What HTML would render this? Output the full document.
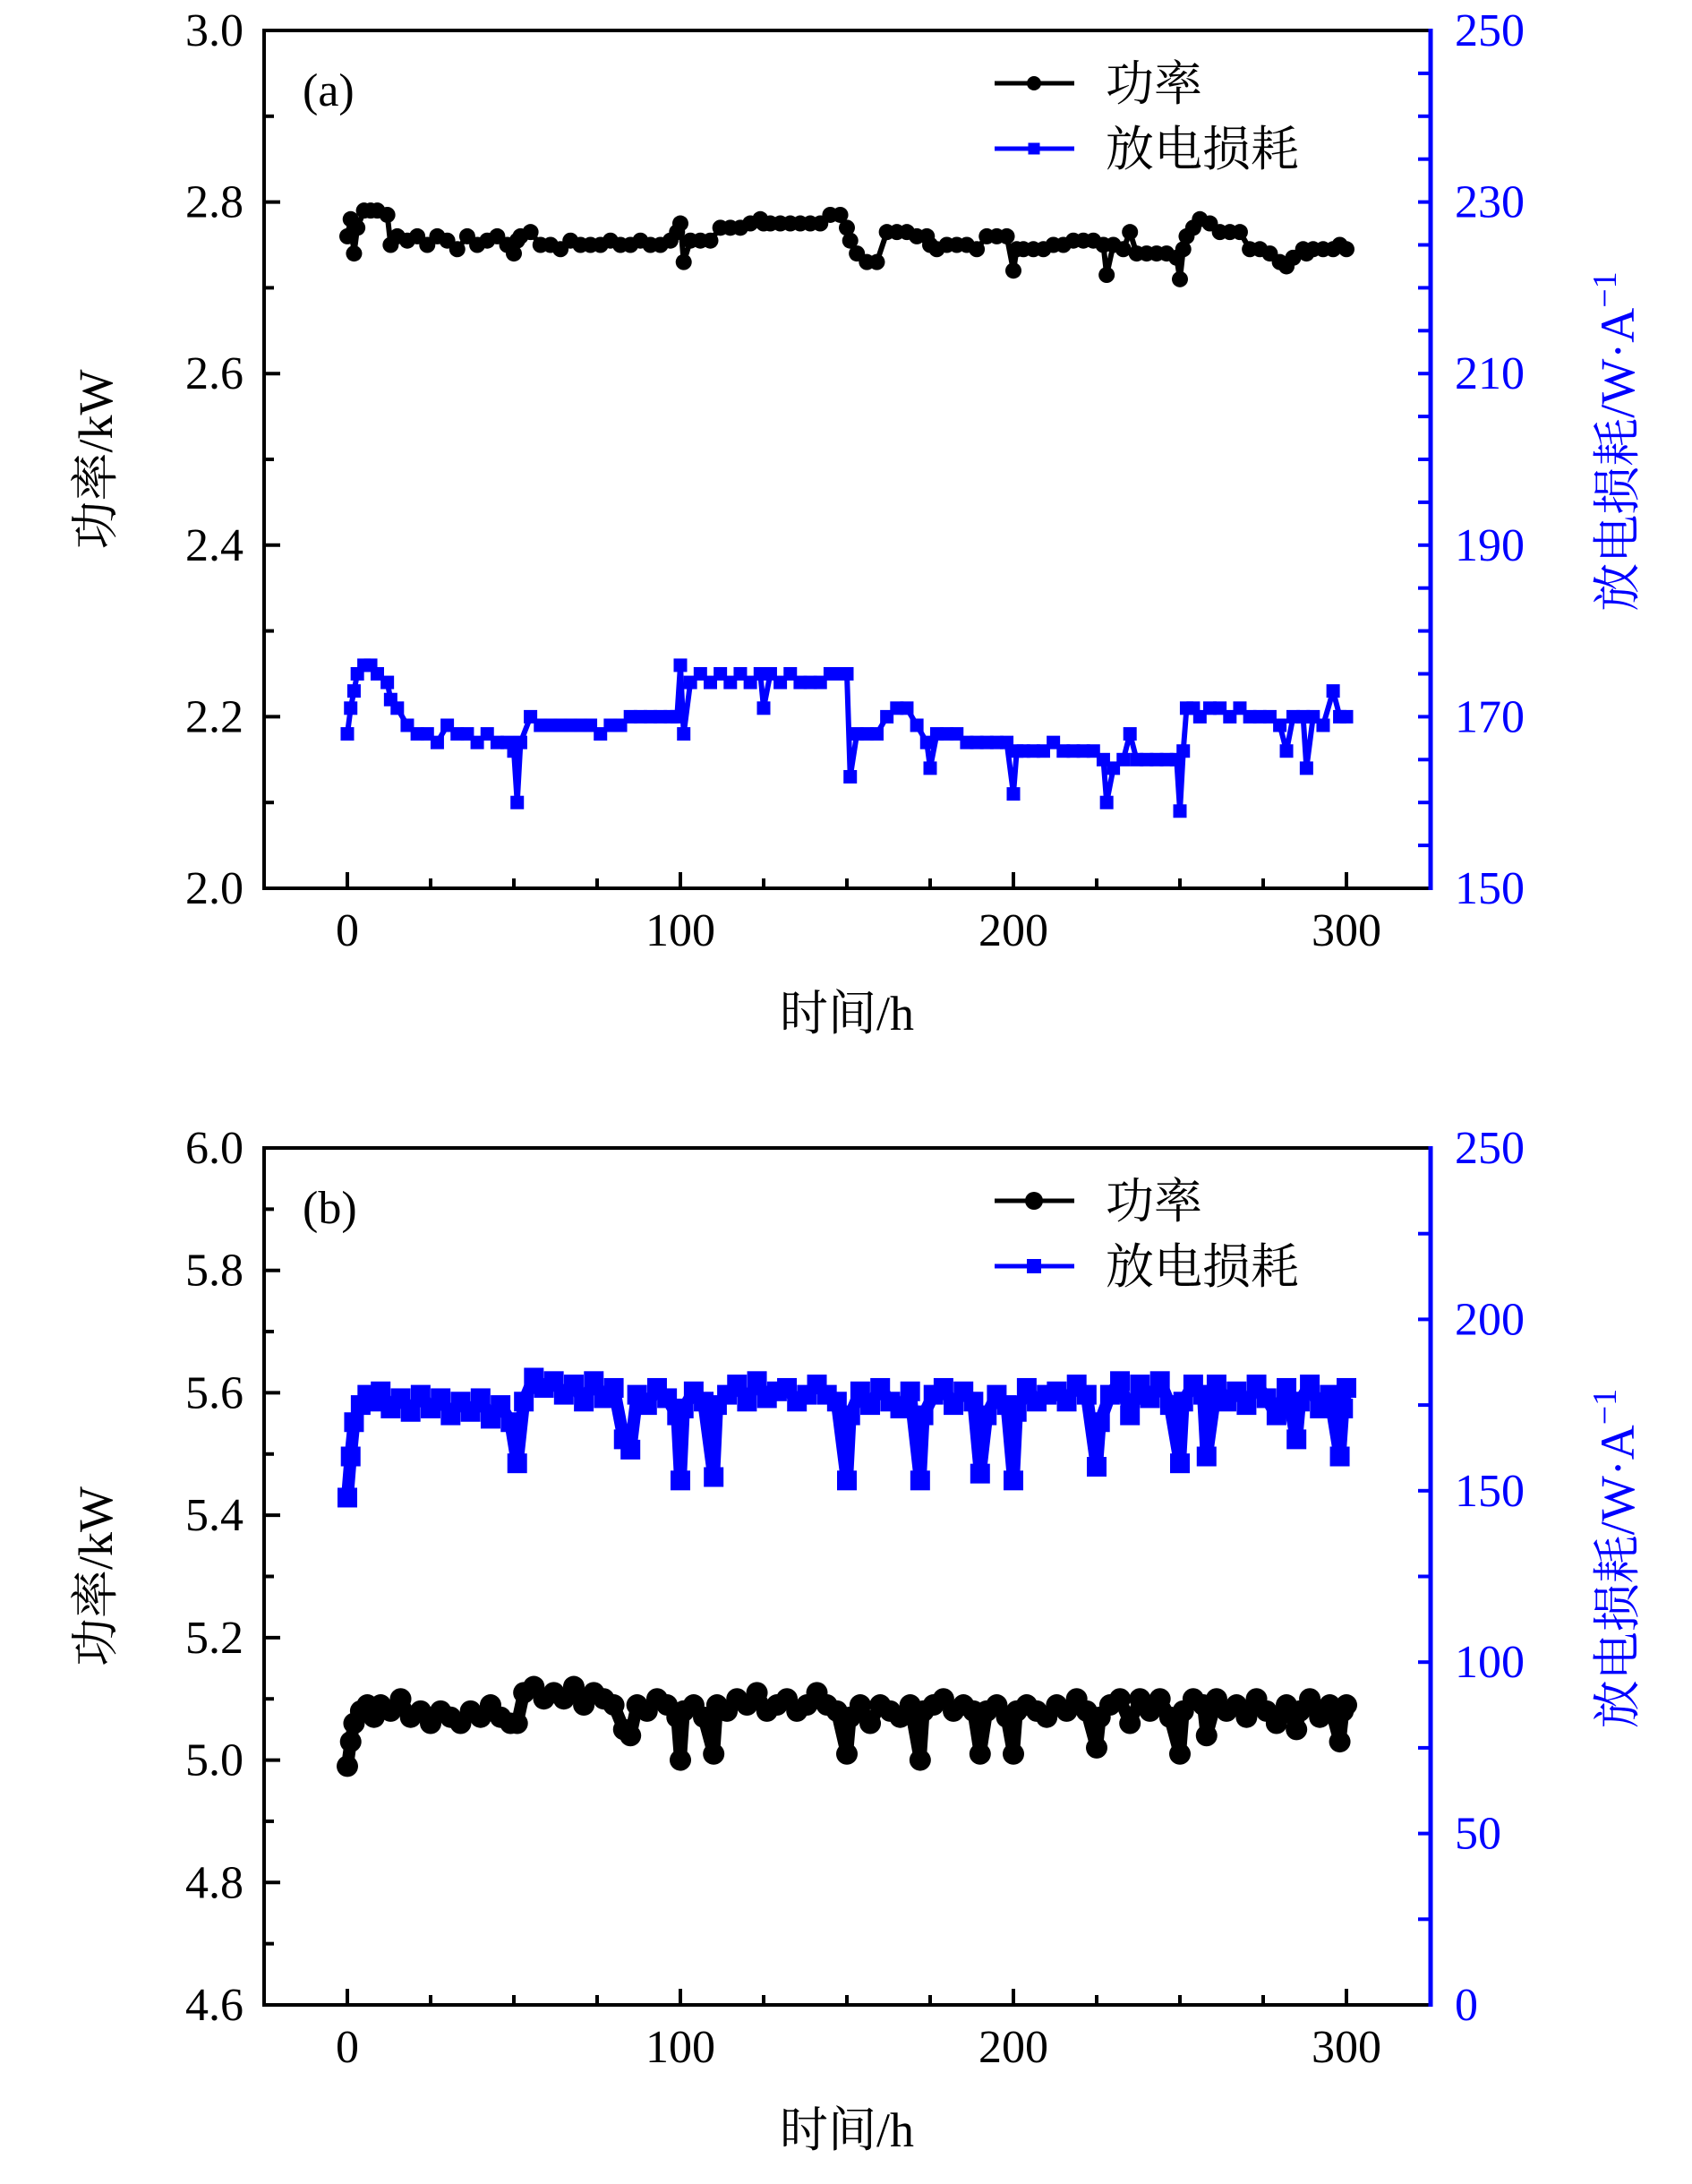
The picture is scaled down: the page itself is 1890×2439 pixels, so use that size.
<!DOCTYPE html>
<html><head><meta charset="utf-8"><style>
html,body{margin:0;padding:0;background:#fff}
svg text{font-family:"Liberation Serif","Noto Serif CJK SC",serif}
</style></head><body>
<svg id="fig" width="1890" height="2434" xmlns="http://www.w3.org/2000/svg"></svg>
<script>
const T_A=[0,1,2,3,5,7,9,12,13,15,18,21,24,27,30,33,36,39,42,45,48,50,51,52,55,58,61,64,67,70,73,76,79,82,85,88,91,94,97,99,100,101,103,106,109,112,115,118,121,124,125,127,130,133,136,139,142,145,148,150,151,153,156,159,162,165,168,171,174,175,177,180,183,186,189,192,195,198,200,201,203,206,209,212,215,218,221,224,227,228,230,233,235,237,240,243,246,249,250,251,252,254,256,259,262,265,268,271,274,277,280,282,284,287,288,290,293,296,298,300];
const POWER_A=[2.76,2.78,2.74,2.77,2.79,2.79,2.79,2.785,2.75,2.76,2.755,2.76,2.75,2.76,2.755,2.745,2.76,2.75,2.755,2.76,2.75,2.74,2.755,2.76,2.765,2.75,2.75,2.745,2.755,2.75,2.75,2.75,2.755,2.75,2.75,2.755,2.75,2.75,2.755,2.765,2.775,2.73,2.755,2.755,2.755,2.77,2.77,2.77,2.775,2.78,2.775,2.775,2.775,2.775,2.775,2.775,2.775,2.785,2.785,2.77,2.755,2.74,2.73,2.73,2.765,2.765,2.765,2.76,2.76,2.75,2.745,2.75,2.75,2.75,2.745,2.76,2.76,2.76,2.72,2.745,2.745,2.745,2.745,2.75,2.75,2.755,2.755,2.755,2.75,2.715,2.75,2.745,2.765,2.74,2.74,2.74,2.74,2.735,2.71,2.745,2.76,2.77,2.78,2.775,2.765,2.765,2.765,2.745,2.745,2.74,2.73,2.725,2.735,2.745,2.74,2.745,2.745,2.745,2.75,2.745];
const LOSS_A=[168,171,173,175,176,176,175,174,172,171,169,168,168,167,169,168,168,167,168,167,167,166,160,167,170,169,169,169,169,169,169,168,169,169,170,170,170,170,170,170,176,168,174,175,174,175,174,175,174,175,171,175,174,175,174,174,174,175,175,175,163,168,168,168,170,171,171,169,167,164,168,168,168,167,167,167,167,167,161,166,166,166,166,167,166,166,166,166,165,160,164,165,168,165,165,165,165,165,159,166,171,171,170,171,171,170,171,170,170,170,169,166,170,170,164,170,169,173,170,170];
const T_B=[0,1,2,4,6,8,10,13,16,19,22,25,28,31,34,37,40,43,46,49,51,53,56,59,62,65,68,71,74,77,80,83,85,87,90,93,96,99,100,101,104,107,110,111,114,117,120,123,126,129,132,135,138,141,144,147,150,151,154,157,160,163,166,169,172,173,176,179,182,185,188,190,192,195,198,200,201,204,207,210,213,216,219,222,225,226,229,232,235,238,241,244,247,250,251,254,257,258,261,264,267,270,273,276,279,282,285,286,289,292,295,298,299,300];
const POWER_B=[4.99,5.03,5.06,5.08,5.09,5.07,5.09,5.08,5.10,5.07,5.08,5.06,5.08,5.07,5.06,5.08,5.07,5.09,5.07,5.06,5.06,5.11,5.12,5.10,5.11,5.10,5.12,5.09,5.11,5.10,5.09,5.05,5.04,5.09,5.08,5.10,5.09,5.07,5.00,5.08,5.09,5.07,5.01,5.09,5.08,5.10,5.09,5.11,5.08,5.09,5.10,5.08,5.09,5.11,5.09,5.08,5.01,5.07,5.09,5.06,5.09,5.08,5.07,5.09,5.00,5.08,5.09,5.10,5.08,5.09,5.08,5.01,5.08,5.09,5.07,5.01,5.08,5.09,5.08,5.07,5.09,5.08,5.10,5.08,5.02,5.07,5.09,5.10,5.06,5.10,5.08,5.10,5.07,5.01,5.08,5.10,5.09,5.04,5.10,5.08,5.09,5.07,5.10,5.08,5.06,5.09,5.05,5.08,5.10,5.07,5.09,5.03,5.08,5.09];
const LOSS_B=[148,160,170,175,178,176,179,174,177,173,178,174,177,172,176,173,177,171,175,170,158,176,183,180,182,178,181,176,182,177,180,165,162,178,175,180,177,172,153,174,179,176,154,175,178,181,176,182,177,179,180,176,178,181,178,176,153,172,179,175,180,176,174,179,153,172,178,180,175,179,176,155,172,178,175,153,173,180,176,178,179,176,181,178,157,170,178,182,172,181,177,182,175,158,176,181,178,160,181,176,179,175,181,177,172,180,165,176,181,174,178,160,174,180];
const X_TICKS=[0,100,200,300];
const YL_A=[2.0,2.2,2.4,2.6,2.8,3.0], YR_A=[150,170,190,210,230,250];
const YL_B=[4.6,4.8,5.0,5.2,5.4,5.6,5.8,6.0], YR_B=[0,50,100,150,200,250];

const NS='http://www.w3.org/2000/svg';
const svg=document.getElementById('fig');
function mk(tag,attrs,parent,txt){const e=document.createElementNS(NS,tag);for(const k in attrs)e.setAttribute(k,attrs[k]);if(txt!==undefined)e.textContent=txt;(parent||svg).appendChild(e);return e;}

function panel(o){
  const L=295,R=1598,top=o.top,bot=o.bot;
  const g=mk('g',{});
  
  
  const sx=t=>388+(t-0)*(1504-388)/300;
  const syL=v=>bot-(v-o.yl[0])*(bot-top)/(o.yl[o.yl.length-1]-o.yl[0]);
  const syR=v=>bot-(v-o.yr[0])*(bot-top)/(o.yr[o.yr.length-1]-o.yr[0]);
  const lStep=(o.yl[1]-o.yl[0])/2;
  let k=0;
  for(let v=o.yl[0];v<=o.yl[o.yl.length-1]+1e-9;v+=lStep,k++){
    const maj=k%2===0;
    const t=mk('line',{x1:L,x2:L+(maj?18:11),y1:syL(v),y2:syL(v),stroke:'#000','stroke-width':4},g);
    
    
  }
  o.yl.forEach(v=>{const t=mk('text',{x:272,y:syL(v)+17,'font-size':52,'text-anchor':'end',fill:'#000'},g,v.toFixed(1));
    
    });
  for(let v=o.yr[0];v<=o.yr[o.yr.length-1]+1e-9;v+=o.rminor){
    const t=mk('line',{x1:R,x2:R-14,y1:syR(v),y2:syR(v),stroke:'#0000ff','stroke-width':4},g);
    
    
  }
  o.yr.forEach(v=>{const t=mk('text',{x:1625,y:syR(v)+17,'font-size':52,fill:'#0000ff'},g,String(v));
    
    });
  for(let t=0;t<=300;t+=25){const maj=t%100===0;
    const e=mk('line',{x1:sx(t),x2:sx(t),y1:bot,y2:bot-(maj?18:11),stroke:'#000','stroke-width':4},g);
    
    }
  X_TICKS.forEach(t=>{const e=mk('text',{x:sx(t),y:bot+64,'font-size':52,'text-anchor':'middle'},g,String(t));
    
    });
  const lossPts=o.T.map((t,i)=>sx(t)+','+syR(o.loss[i])).join(' ');
  const pwPts=o.T.map((t,i)=>sx(t)+','+syL(o.power[i])).join(' ');
  const lossLine=mk('polyline',{points:lossPts,fill:'none',stroke:'#0000ff','stroke-width':o.lw,'stroke-linejoin':'round'},g);
  
  
  const s=o.ms;
  o.T.forEach((t,i)=>{const r=mk('rect',{x:sx(t)-s/2,y:syR(o.loss[i])-s/2,width:s,height:s,fill:'#0000ff'},g);
    
    });
  const pwLine=mk('polyline',{points:pwPts,fill:'none',stroke:'#000','stroke-width':o.lw,'stroke-linejoin':'round'},g);
  
  
  o.T.forEach((t,i)=>{const c=mk('circle',{cx:sx(t),cy:syL(o.power[i]),r:o.mr,fill:'#000'},g);
    
    });
  const f1=mk('polyline',{points:`${R},${top} ${L},${top} ${L},${bot} ${R},${bot}`,fill:'none',stroke:'#000','stroke-width':4},g);
  
  
  const f2=mk('line',{x1:R,x2:R,y1:top-2,y2:bot+2,stroke:'#0000ff','stroke-width':5},g);
  
  
  const pl=mk('text',{x:338,y:top+84,'font-size':52},g,o.label);
  
  
  const xt=mk('text',{x:946,y:bot+158,'font-size':54,'text-anchor':'middle'},g,'时间/h');
  
  
  const mid=(top+bot)/2;
  const yt=mk('text',{x:0,y:0,'font-size':54,'text-anchor':'middle',transform:`translate(125,${mid}) rotate(-90)`},g,'功率/kW');
  
  
  const rt=mk('text',{x:0,y:0,'font-size':54,'text-anchor':'middle',fill:'#0000ff',transform:`translate(1825,${mid-20}) rotate(-90)`},g);
  
  
  rt.textContent='放电损耗/W·A';
  mk('tspan',{dy:-20,'font-size':38},rt,'−1');
  const ly1=top+59, ly2=top+132;
  const l1=mk('line',{x1:1111,x2:1200,y1:ly1,y2:ly1,stroke:'#000','stroke-width':5},g);
  
  
  const c1=mk('circle',{cx:1155,cy:ly1,r:o.lmr,fill:'#000'},g);
  
  
  const t1=mk('text',{x:1235,y:ly1+19,'font-size':54},g,'功率');
  
  
  const l2=mk('line',{x1:1111,x2:1200,y1:ly2,y2:ly2,stroke:'#0000ff','stroke-width':5},g);
  
  
  const ls=o.lms;
  const r2=mk('rect',{x:1155-ls/2,y:ly2-ls/2,width:ls,height:ls,fill:'#0000ff'},g);
  
  
  const t2=mk('text',{x:1235,y:ly2+19,'font-size':54},g,'放电损耗');
  
  
}
panel({name:'panel-a',label:'(a)',top:34,bot:992,yl:YL_A,yr:YR_A,rminor:5,T:T_A,power:POWER_A,loss:LOSS_A,lw:6,mr:9,ms:15,lmr:8,lms:13});
panel({name:'panel-b',label:'(b)',top:1282,bot:2239,yl:YL_B,yr:YR_B,rminor:25,T:T_B,power:POWER_B,loss:LOSS_B,lw:14,mr:12,ms:22,lmr:10,lms:16});
</script>
</body></html>
